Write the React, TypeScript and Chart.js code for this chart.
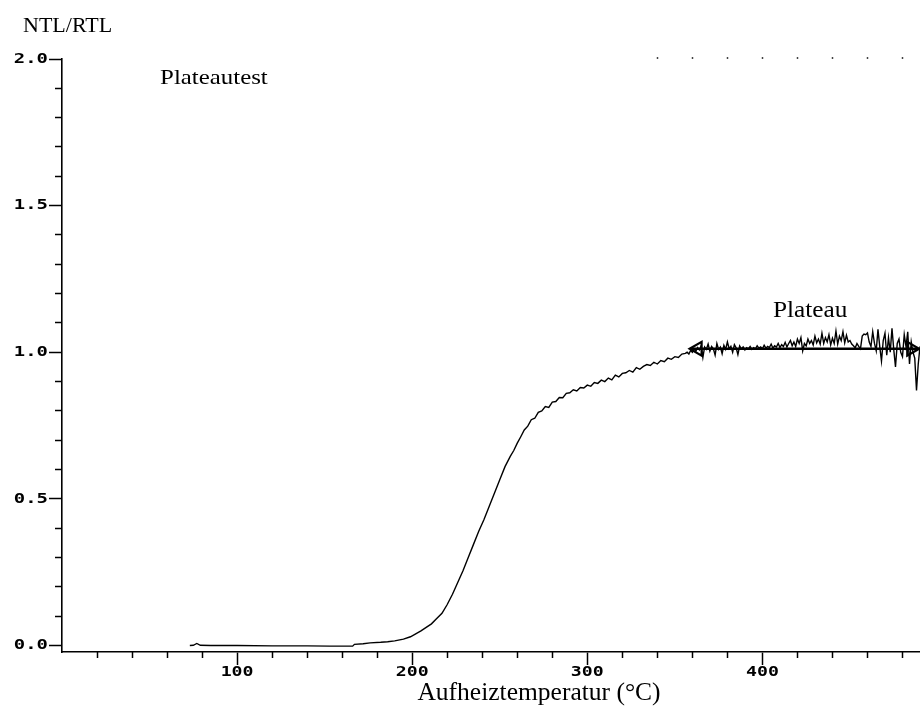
import React, { useEffect, useRef } from "react";
import { Chart, registerables } from "chart.js";

Chart.register(...registerables);

// [Aufheiztemperatur °C, NTL/RTL] – flat start and steep rise
const risePoints: [number, number][] = [
  [73, 0.0], [75, 0.001], [77, 0.007], [79, 0.001], [85, 0.0], [100, 0.0], [120, -0.001],
  [140, -0.001], [153, -0.002], [166, -0.002], [167, 0.004], [172, 0.006], [176, 0.009],
  [182, 0.011], [186, 0.013], [190, 0.016], [195, 0.022], [199, 0.03], [202, 0.04],
  [205, 0.05], [208, 0.062], [211, 0.074], [214, 0.092], [217, 0.11], [220, 0.14],
  [223, 0.175], [226, 0.215], [229, 0.255], [232, 0.3], [235, 0.345], [238, 0.39],
  [241, 0.43], [244, 0.475], [247, 0.52], [250, 0.565], [253, 0.61], [256, 0.645],
  [258, 0.665],
];

// shoulder before the plateau
const shoulderPoints: [number, number][] = [
  [260, 0.69], [262, 0.712], [264, 0.735], [266, 0.748], [268, 0.77], [270, 0.775],
  [272, 0.795], [274, 0.8], [276, 0.815], [278, 0.812], [280, 0.83], [282, 0.832],
  [284, 0.846], [286, 0.845], [288, 0.86], [290, 0.862], [292, 0.872], [294, 0.868],
  [296, 0.88], [298, 0.878], [300, 0.888], [302, 0.884], [304, 0.897], [306, 0.894],
  [308, 0.905], [310, 0.9], [312, 0.912], [314, 0.906], [316, 0.922], [318, 0.916],
  [320, 0.928], [322, 0.93], [324, 0.938], [326, 0.932], [328, 0.948], [330, 0.942],
  [332, 0.952], [334, 0.958], [336, 0.955], [338, 0.966], [340, 0.96], [342, 0.972],
  [344, 0.968], [346, 0.98], [348, 0.976], [350, 0.985], [352, 0.982], [354, 0.994],
];

// noisy plateau
const plateauPoints: [number, number][] = [
  [356, 0.996], [357, 1.0], [358, 0.994], [359, 1.006], [360, 1.0], [361, 1.012], [362, 1.004],
  [363, 1.016], [364, 1.008], [365, 1.022], [366, 0.982], [367, 1.018], [368, 1.01], [369, 1.028],
  [370, 1.004], [371, 1.02], [372, 1.012], [373, 0.99], [374, 1.03], [375, 1.01], [376, 1.018],
  [377, 0.995], [378, 1.024], [379, 1.01], [380, 1.035], [381, 1.012], [382, 1.02], [383, 1.0],
  [384, 1.026], [385, 1.015], [386, 0.992], [387, 1.022], [388, 1.012], [389, 1.018], [390, 1.008],
  [391, 1.016], [392, 1.012], [393, 1.02], [394, 1.01], [395, 1.016], [396, 1.012], [397, 1.022],
  [398, 1.014], [399, 1.018], [400, 1.012], [401, 1.024], [402, 1.014], [403, 1.02], [404, 1.016],
  [405, 1.028], [406, 1.014], [407, 1.022], [408, 1.018], [409, 1.03], [410, 1.016], [411, 1.026],
  [412, 1.02], [413, 1.034], [414, 1.018], [415, 1.03], [416, 1.04], [417, 1.022], [418, 1.035],
  [419, 1.02], [420, 1.045], [421, 1.03], [422, 1.05], [423, 1.005], [424, 1.03], [425, 1.022],
  [426, 1.045], [427, 1.03], [428, 1.04], [429, 1.025], [430, 1.055], [431, 1.032], [432, 1.045],
  [433, 1.028], [434, 1.065], [435, 1.03], [436, 1.05], [437, 1.035], [438, 1.06], [439, 1.025],
  [440, 1.048], [441, 1.03], [442, 1.072], [443, 1.028], [444, 1.055], [445, 1.04], [446, 1.07],
  [447, 1.032], [448, 1.058], [449, 1.035], [450, 1.04], [451, 1.028], [452, 1.022], [453, 1.015],
  [454, 1.03], [455, 1.02], [456, 1.012], [457, 1.055], [458, 1.062], [459, 1.06], [460, 1.066],
  [461, 1.035], [462, 1.02], [463, 1.07], [464, 1.03], [465, 1.005], [466, 1.078], [467, 1.02],
  [468, 0.97], [469, 1.04], [470, 1.065], [471, 0.99], [472, 1.05], [473, 1.0], [474, 1.082],
  [475, 1.01], [476, 0.95], [477, 1.03], [478, 1.045], [479, 1.0], [480, 0.985], [481, 1.06],
  [482, 1.02], [483, 1.07], [484, 0.96], [485, 1.035], [486, 1.0], [487, 0.98], [488, 0.87],
  [489, 0.96], [490, 1.02],
];

// Plateau arrow
const arrowT: number[] = [359, 489];
const arrowV: number[] = [1.012, 1.012];
const headT: number[] = [363, 485];
const headRot: number[] = [-90, 90];

// Axes
const X_MIN = 0;
const X_MAX = 490;
const Y_MIN = -0.022;
const Y_MAX = 2.0;
const xMajorTicks: number[] = [100, 200, 300, 400];
const xTickLabels: string[] = ["100", "200", "300", "400"];
const xMinorTicks: number[] = [20, 40, 60, 80, 120, 140, 160, 180, 220, 240, 260, 280, 320, 340, 360, 380, 420, 440, 460, 480];
const xTopDots: number[] = [340, 360, 380, 400, 420, 440, 460, 480];
const yMajorTicks: number[] = [0, 0.5, 1.0, 1.5, 2.0];
const yTickLabels: string[] = ["0.0", "0.5", "1.0", "1.5", "2.0"];
const yMinorTicks: number[] = [0.1, 0.2, 0.3, 0.4, 0.6, 0.7, 0.8, 0.9, 1.1, 1.2, 1.3, 1.4, 1.6, 1.7, 1.8, 1.9];

const yLabel = "NTL/RTL";
const xLabel = "Aufheiztemperatur (°C)";
const note1 = "Plateautest";
const note1Pos = [56, 1.915];
const note2 = "Plateau";
const note2Pos = [406, 1.121];

const SERIF = "'Liberation Serif', 'Times New Roman', serif";
const TICK_FONT = "bold 14px 'DejaVu Sans Mono', monospace";

function scaledText(ctx: CanvasRenderingContext2D, text: string, x: number, y: number, align: CanvasTextAlign, baseline: CanvasTextBaseline, sx: number) {
  ctx.save();
  ctx.translate(x, y);
  ctx.scale(sx, 1);
  ctx.textAlign = align;
  ctx.textBaseline = baseline;
  ctx.fillText(text, 0, 0);
  ctx.restore();
}

const setTicks = (vals: number[]) => (s: any) => {
  s.ticks = vals.map((v) => ({ value: v }));
};

export default function App() {
  const ref = useRef<HTMLCanvasElement | null>(null);

  useEffect(() => {
    const canvas = ref.current;
    if (!canvas) return;

    const curve = [...risePoints, ...shoulderPoints, ...plateauPoints].map(([x, y]) => ({ x, y }));

    const textPlugin = {
      id: "textPlugin",
      afterDraw(chart: any) {
        const ctx: CanvasRenderingContext2D = chart.ctx;
        const xs = chart.scales.x;
        const ys = chart.scales.y;
        const area = chart.chartArea;
        ctx.save();
        ctx.fillStyle = "#000";
        ctx.font = TICK_FONT;
        yMajorTicks.forEach((v, i) => {
          scaledText(ctx, yTickLabels[i], area.left - 14, ys.getPixelForValue(v), "right", "middle", 1.35);
        });
        xMajorTicks.forEach((v, i) => {
          scaledText(ctx, xTickLabels[i], xs.getPixelForValue(v), area.bottom + 20, "center", "middle", 1.3);
        });
        ctx.font = `22px ${SERIF}`;
        scaledText(ctx, yLabel, 23, 32, "left", "alphabetic", 1);
        ctx.font = `22px ${SERIF}`;
        scaledText(ctx, note1, xs.getPixelForValue(note1Pos[0]), ys.getPixelForValue(note1Pos[1]), "left", "alphabetic", 1.13);
        ctx.font = `23px ${SERIF}`;
        scaledText(ctx, note2, xs.getPixelForValue(note2Pos[0]), ys.getPixelForValue(note2Pos[1]), "left", "alphabetic", 1.1);
        ctx.font = `25px ${SERIF}`;
        scaledText(ctx, xLabel, xs.getPixelForValue(203), area.bottom + 48, "left", "alphabetic", 1.02);
        ctx.restore();
      },
    };

    const chart = new Chart(canvas, {
      type: "line",
      data: {
        datasets: [
          {
            data: headT.map((t, i) => ({ x: t, y: arrowV[i] })),
            showLine: false,
            pointStyle: "triangle",
            pointRadius: 8,
            pointRotation: headRot,
            pointBorderColor: "#000",
            pointBackgroundColor: "rgba(255,255,255,0)",
            pointBorderWidth: 2.2,
          } as any,
          {
            data: arrowT.map((t, i) => ({ x: t, y: arrowV[i] })),
            borderColor: "#000",
            borderWidth: 2.6,
            pointRadius: 0,
          },
          {
            data: curve,
            borderColor: "#000",
            borderWidth: 1.4,
            pointRadius: 0,
            tension: 0,
          },
        ],
      },
      options: {
        animation: false,
        responsive: true,
        maintainAspectRatio: false,
        parsing: false,
        layout: { autoPadding: false, padding: { top: 59, right: 0, left: 0, bottom: 0 } },
        plugins: { legend: { display: false }, tooltip: { enabled: false } },
        scales: {
          x: {
            type: "linear",
            position: "bottom",
            min: X_MIN,
            max: X_MAX,
            border: { display: true, color: "#000", width: 1.6 },
            grid: { drawOnChartArea: false, drawTicks: true, tickLength: 13, tickWidth: 1.5, tickColor: "#000" },
            ticks: { display: false },
            afterBuildTicks: setTicks(xMajorTicks),
            afterFit: (s: any) => {
              s.height = 55;
              s.paddingLeft = 0;
              s.paddingRight = 0;
            },
          },
          xMinor: {
            type: "linear",
            position: "bottom",
            weight: -1,
            min: X_MIN,
            max: X_MAX,
            border: { display: false },
            grid: { drawOnChartArea: false, drawTicks: true, tickLength: 6, tickWidth: 1.5, tickColor: "#000" },
            ticks: { display: false },
            afterBuildTicks: setTicks(xMinorTicks),
            afterFit: (s: any) => {
              s.height = 0;
            },
          },
          xTop: {
            type: "linear",
            position: "top",
            min: X_MIN,
            max: X_MAX,
            border: { display: false },
            grid: { drawOnChartArea: false, drawTicks: true, tickLength: 2, tickWidth: 1.5, tickColor: "#444" },
            ticks: { display: false },
            afterBuildTicks: setTicks(xTopDots),
            afterFit: (s: any) => {
              s.height = 0;
            },
          },
          y: {
            type: "linear",
            position: "left",
            min: Y_MIN,
            max: Y_MAX,
            border: { display: true, color: "#000", width: 1.6 },
            grid: { drawOnChartArea: false, drawTicks: true, tickLength: 13, tickWidth: 1.5, tickColor: "#000" },
            ticks: { display: false },
            afterBuildTicks: setTicks(yMajorTicks),
            afterFit: (s: any) => {
              s.width = 62;
              s.paddingTop = 0;
              s.paddingBottom = 0;
            },
          },
          yMinor: {
            type: "linear",
            position: "left",
            weight: -1,
            min: Y_MIN,
            max: Y_MAX,
            border: { display: false },
            grid: { drawOnChartArea: false, drawTicks: true, tickLength: 7, tickWidth: 1.5, tickColor: "#000" },
            ticks: { display: false },
            afterBuildTicks: setTicks(yMinorTicks),
            afterFit: (s: any) => {
              s.width = 0;
            },
          },
        },
      } as any,
      plugins: [textPlugin],
    });

    return () => chart.destroy();
  }, []);

  return (
    <div style={{ position: "absolute", left: 0, top: 0, width: 920, height: 707, background: "#fff" }}>
      <canvas ref={ref} />
    </div>
  );
}
